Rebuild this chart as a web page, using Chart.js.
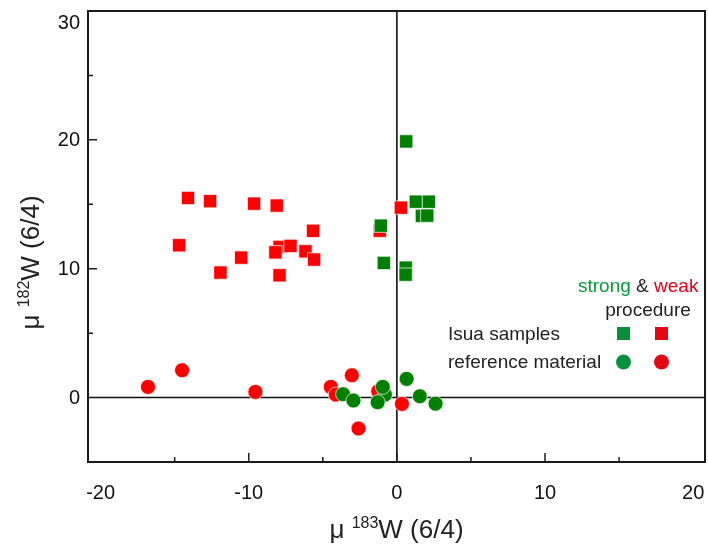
<!DOCTYPE html>
<html>
<head>
<meta charset="utf-8">
<script src="https://cdn.jsdelivr.net/npm/chart.js@4.4.1/dist/chart.umd.min.js"></script>
<style>
  html, body { margin: 0; padding: 0; background: #fff; }
  #wrap { width: 708px; height: 544px; }
</style>
</head>
<body>
<div id="wrap"><canvas id="c" width="708" height="544"></canvas></div>
<script>
// ---- data ----
const xTickValues = [-20, -10, 0, 10, 20];
const yTickValues = [0, 10, 20, 30];
const xMinorTicks = [-15, -10, -5, 0, 5, 10, 15];
const yMinorTicks = [5, 10, 15, 20, 25];

// Isua samples, weak procedure (red squares)
const redSquaresX = [-14.10, -12.61, -9.64, -8.11, -5.66, -14.70, -7.92, -7.18, -8.20, -6.17, -5.59, -10.51, -11.91, -7.92, 0.27, -1.15];
const redSquaresY = [15.49, 15.24, 15.05, 14.90, 12.94, 11.82, 11.69, 11.77, 11.27, 11.35, 10.71, 10.86, 9.70, 9.49, 14.74, 12.95];
// Isua samples, strong procedure (green squares)
const greenSquaresX = [0.63, 1.28, 2.16, 1.69, 2.05, -1.08, -0.88, 0.60, 0.59];
const greenSquaresY = [19.88, 15.20, 15.20, 14.10, 14.12, 13.34, 10.45, 10.08, 9.54];
// reference material, weak procedure (red circles)
const redCirclesX = [-16.80, -14.50, -9.55, -4.46, -4.12, -3.04, -2.59, -1.26, 0.34];
const redCirclesY = [0.83, 2.12, 0.44, 0.83, 0.23, 1.73, -2.40, 0.49, -0.49];
// reference material, strong procedure (green circles)
const greenCirclesX = [-3.63, -2.93, -0.81, -0.95, -1.30, 0.66, 1.55, 2.61];
const greenCirclesY = [0.26, -0.23, 0.23, 0.83, -0.36, 1.45, 0.10, -0.47];

const FONT = '"Liberation Sans", Arial, Helvetica, sans-serif';
const GREEN = '#008000';
const RED = '#ff0000';

function pts(xs, ys) { return xs.map((x, i) => ({ x: x, y: ys[i] })); }

function drawRich(ctx, parts, cx, baseline) {
  let total = 0;
  parts.forEach(p => { ctx.font = p.size + 'px ' + FONT; p.w = ctx.measureText(p.t).width; total += p.w; });
  let x = cx - total / 2;
  ctx.textAlign = 'left';
  ctx.textBaseline = 'alphabetic';
  parts.forEach(p => {
    ctx.font = p.size + 'px ' + FONT;
    ctx.fillText(p.t, x, baseline + (p.dy || 0));
    x += p.w;
  });
}

const framePlugin = {
  id: 'framePlugin',
  beforeDatasetsDraw(chart) {
    const { ctx, chartArea: a, scales: { x, y } } = chart;
    ctx.save();
    ctx.strokeStyle = '#111';
    ctx.lineWidth = 1.6;
    const x0 = x.getPixelForValue(0), y0 = y.getPixelForValue(0);
    ctx.beginPath();
    ctx.moveTo(x0, a.top); ctx.lineTo(x0, a.bottom);
    ctx.moveTo(a.left, y0); ctx.lineTo(a.right, y0);
    ctx.stroke();
    ctx.restore();
  },
  afterDraw(chart) {
    const { ctx, chartArea: a, scales: { x, y } } = chart;
    ctx.save();
    // frame
    ctx.strokeStyle = '#1a1a1a';
    ctx.lineWidth = 2;
    ctx.strokeRect(a.left, a.top, a.right - a.left, a.bottom - a.top);
    // inward ticks
    ctx.lineWidth = 1.5;
    ctx.beginPath();
    xMinorTicks.forEach(v => {
      const px = x.getPixelForValue(v);
      const len = (v % 10 === 0) ? 9 : 5;
      ctx.moveTo(px, a.bottom); ctx.lineTo(px, a.bottom - len);
    });
    yMinorTicks.forEach(v => {
      const py = y.getPixelForValue(v);
      const len = (v % 10 === 0) ? 9 : 5;
      ctx.moveTo(a.left, py); ctx.lineTo(a.left + len, py);
    });
    ctx.stroke();
    // y tick labels
    ctx.fillStyle = '#111';
    ctx.font = '20px ' + FONT;
    ctx.textAlign = 'right';
    ctx.textBaseline = 'middle';
    yTickValues.forEach(v => {
      const py = Math.max(y.getPixelForValue(v), a.top + 11);
      ctx.fillText(String(v), a.left - 8, py + 1);
    });
    // axis titles
    ctx.fillStyle = '#222';
    drawRich(ctx, [
      { t: 'μ ', size: 26 },
      { t: '183', size: 16, dy: -10 },
      { t: 'W (6/4)', size: 26 }
    ], (a.left + a.right) / 2, 538);
    ctx.save();
    ctx.translate(39, (a.top + a.bottom) / 2 + 26);
    ctx.rotate(-Math.PI / 2);
    drawRich(ctx, [
      { t: 'μ ', size: 26 },
      { t: '182', size: 16, dy: -10 },
      { t: 'W (6/4)', size: 26 }
    ], 0, 0);
    ctx.restore();
    // legend
    ctx.font = '19px ' + FONT;
    ctx.textAlign = 'left';
    ctx.textBaseline = 'alphabetic';
    let lx = 578;
    ctx.fillStyle = '#0a9a3c'; ctx.fillText('strong', lx, 292); lx += ctx.measureText('strong ').width;
    ctx.fillStyle = '#222'; ctx.fillText('&', lx, 292); lx += ctx.measureText('& ').width;
    ctx.fillStyle = '#e3001b'; ctx.fillText('weak', lx, 292);
    ctx.fillStyle = '#222';
    ctx.textAlign = 'center';
    ctx.fillText('procedure', 648, 316);
    ctx.textAlign = 'left';
    ctx.fillText('Isua samples', 448, 340);
    ctx.fillText('reference material', 448, 368);
    ctx.fillStyle = '#0a8f3c'; ctx.fillRect(617, 327, 13, 13);
    ctx.fillStyle = '#e30613'; ctx.fillRect(655, 327, 13, 13);
    ctx.fillStyle = '#0a8f3c'; ctx.beginPath(); ctx.arc(623.5, 362, 7.5, 0, Math.PI * 2); ctx.fill();
    ctx.fillStyle = '#e30613'; ctx.beginPath(); ctx.arc(661.5, 362, 7.5, 0, Math.PI * 2); ctx.fill();
    ctx.restore();
  }
};

new Chart(document.getElementById('c'), {
  type: 'scatter',
  data: {
    datasets: [
      { label: 'reference material (strong)', data: pts(greenCirclesX, greenCirclesY), order: 0,
        pointStyle: 'circle', pointRadius: 7.5, backgroundColor: GREEN, borderColor: 'rgba(255,255,255,0.7)', borderWidth: 1 },
      { label: 'Isua samples (strong)', data: pts(greenSquaresX, greenSquaresY), order: 1,
        pointStyle: 'rect', pointRadius: 9.4, backgroundColor: GREEN, borderColor: 'rgba(255,255,255,0.7)', borderWidth: 1 },
      { label: 'reference material (weak)', data: pts(redCirclesX, redCirclesY), order: 2,
        pointStyle: 'circle', pointRadius: 7.5, backgroundColor: RED, borderColor: 'rgba(255,255,255,0.7)', borderWidth: 1 },
      { label: 'Isua samples (weak)', data: pts(redSquaresX, redSquaresY), order: 3,
        pointStyle: 'rect', pointRadius: 9.4, backgroundColor: RED, borderColor: 'rgba(255,255,255,0.7)', borderWidth: 1 }
    ]
  },
  options: {
    responsive: false,
    animation: false,
    devicePixelRatio: 1,
    layout: { autoPadding: false, padding: { top: 11, right: 3, left: 0, bottom: 0 } },
    plugins: { legend: { display: false }, tooltip: { enabled: false } },
    elements: { point: { hoverRadius: 7.5 } },
    scales: {
      x: {
        type: 'linear', position: 'bottom', min: -20.85, max: 20.8,
        afterBuildTicks(s) { s.ticks = xTickValues.map(v => ({ value: v })); },
        afterFit(s) { s.height = 82; s.paddingLeft = 0; s.paddingRight = 0; },
        grid: { display: false, drawTicks: false },
        border: { display: false },
        ticks: { color: '#111', font: { family: FONT, size: 20 }, padding: 19, maxRotation: 0, autoSkip: false }
      },
      y: {
        type: 'linear', position: 'left', min: -5, max: 30,
        afterBuildTicks(s) { s.ticks = yTickValues.map(v => ({ value: v })); },
        afterFit(s) { s.width = 88; s.paddingTop = 0; s.paddingBottom = 0; },
        grid: { display: false, drawTicks: false },
        border: { display: false },
        ticks: { display: false }
      }
    }
  },
  plugins: [framePlugin]
});
</script>
</body>
</html>
